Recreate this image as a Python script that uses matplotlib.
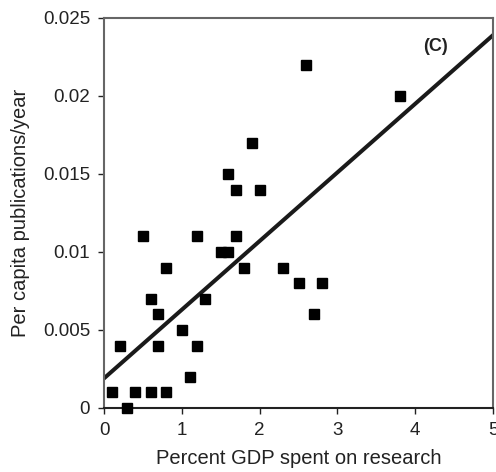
import numpy as np
import matplotlib
matplotlib.use('Agg')
import matplotlib.pyplot as plt

plt.rcParams['font.family'] = ['Liberation Sans', 'DejaVu Sans']

# percent of GDP spent on research vs per capita publications per year
gdp_pct = [0.1, 0.2, 0.3, 0.4, 0.5, 0.6, 0.6, 0.7, 0.7, 0.8,
           0.8, 1.0, 1.1, 1.2, 1.2, 1.3, 1.5, 1.6, 1.6, 1.7,
           1.7, 1.8, 1.9, 2.0, 2.3, 2.5, 2.6, 2.7, 2.8, 3.8]
pubs = [0.001, 0.004, 0.000, 0.001, 0.011, 0.007, 0.001, 0.006, 0.004, 0.009,
        0.001, 0.005, 0.002, 0.011, 0.004, 0.007, 0.010, 0.010, 0.015, 0.014,
        0.011, 0.009, 0.017, 0.014, 0.009, 0.008, 0.022, 0.006, 0.008, 0.020]

# trend line
fit_intercept = 0.0019
fit_slope = 0.0044

xticks = [0, 1, 2, 3, 4, 5]
yticks = [0, 0.005, 0.01, 0.015, 0.02, 0.025]
ytick_labels = ['0', '0.005', '0.01', '0.015', '0.02', '0.025']

fig = plt.figure(figsize=(4.96, 4.72), dpi=100)
ax = fig.add_axes([0.2097, 0.1356, 0.7843, 0.8263])

ax.plot(gdp_pct, pubs, 's', color='black', markersize=6.5, clip_on=False, zorder=3)
xs = np.array([0, 5])
ax.plot(xs, fit_intercept + fit_slope * xs, color='#1a1a1a', lw=2.9, zorder=2)

ax.set_xlim(0, 5)
ax.set_ylim(0, 0.025)
ax.set_xticks(xticks)
ax.set_xticklabels([str(t) for t in xticks])
ax.set_yticks(yticks)
ax.set_yticklabels(ytick_labels)
ax.tick_params(direction='out', length=4, width=1, labelsize=13.5, colors='#222222', pad=6)

for side in ['top', 'right', 'left']:
    ax.spines[side].set_color('#666666')
    ax.spines[side].set_linewidth(1.5)
ax.spines['bottom'].set_color('#222222')
ax.spines['bottom'].set_linewidth(1.5)

ax.set_xlabel('Percent GDP spent on research', fontsize=14.5, color='#222222', labelpad=7)
ax.set_ylabel('Per capita publications/year', fontsize=14.5, color='#222222', labelpad=9)
ax.text(0.851, 0.928, '(C)', transform=ax.transAxes, fontsize=13, fontweight='bold',
        ha='center', va='center', color='#222222')

fig.savefig('out.png', dpi=100)
